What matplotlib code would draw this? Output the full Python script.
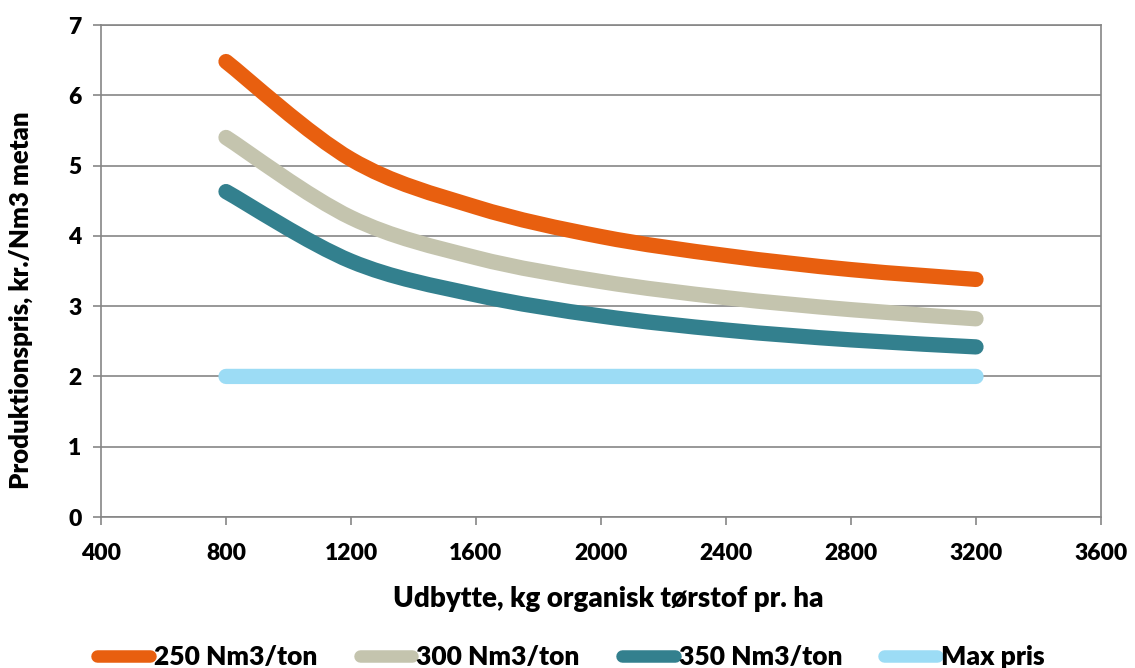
import numpy as np
import matplotlib.pyplot as plt
from matplotlib.path import Path
from matplotlib.patches import PathPatch
from matplotlib.lines import Line2D

plt.rcParams['font.family'] = ['Lato', 'DejaVu Sans']
plt.rcParams['font.weight'] = 'heavy'

# data
udbytte = [800, 1200, 1600, 2000, 2400, 2800, 3200]
nm250 = [6.48, 5.09, 4.41, 3.99, 3.72, 3.52, 3.38]
nm300 = [5.40, 4.26, 3.69, 3.35, 3.12, 2.95, 2.82]
nm350 = [4.63, 3.64, 3.16, 2.86, 2.66, 2.52, 2.42]
maxpris = [2.0, 2.0, 2.0, 2.0, 2.0, 2.0, 2.0]

labels = ['250 Nm3/ton', '300 Nm3/ton', '350 Nm3/ton', 'Max pris']
colors = ['#E85F0F', '#C4C4AE', '#33808E', '#9CDCF5']
series = [nm250, nm300, nm350, maxpris]


def smooth_path(xs, ys):
    # Excel-like smoothed line: cubic bezier through the points (Catmull-Rom)
    p = np.column_stack([xs, ys]).astype(float)
    verts = [p[0]]
    codes = [Path.MOVETO]
    n = len(p)
    for i in range(n - 1):
        p0 = p[i - 1] if i > 0 else p[i]
        p3 = p[i + 2] if i + 2 < n else p[i + 1]
        c1 = p[i] + (p[i + 1] - p0) / 6
        c2 = p[i + 1] - (p3 - p[i]) / 6
        verts += [c1, c2, p[i + 1]]
        codes += [Path.CURVE4] * 3
    return Path(verts, codes)


fig = plt.figure(figsize=(11.35, 6.68), dpi=100)
ax = fig.add_axes([101 / 1135, 1 - 517 / 668, 1000 / 1135, 492 / 668])

lw = 11
for ys, c in zip(series, colors):
    patch = PathPatch(smooth_path(udbytte, ys), facecolor='none', edgecolor=c,
                      lw=lw, capstyle='round', joinstyle='round', zorder=3)
    ax.add_patch(patch)

ax.set_xlim(400, 3600)
ax.set_ylim(0, 7)
ax.set_xticks(np.arange(400, 3601, 400))
ax.set_yticks(np.arange(0, 8, 1))
ax.grid(axis='y', color='#868686', lw=1.2)
ax.set_axisbelow(True)
for s in ax.spines.values():
    s.set_color('#868686')
    s.set_linewidth(1.2)
ax.tick_params(axis='both', color='#868686', width=1.2, length=6, labelsize=16.5)
ax.tick_params(axis='x', pad=13)
ax.tick_params(axis='y', pad=8)

ax.set_xlabel('Udbytte, kg organisk tørstof pr. ha', fontsize=20, fontweight='heavy')
ax.set_ylabel('Produktionspris, kr./Nm3 metan', fontsize=18.5, fontweight='heavy')
ax.xaxis.set_label_coords(0.507, -0.14)
ax.yaxis.set_label_coords(-0.068, 0.44)

handles = [Line2D([0], [0], color=c, lw=9, solid_capstyle='round') for c in colors]
fig.legend(handles, labels, loc='center left', bbox_to_anchor=(84 / 1135, 1 - 657 / 668), ncol=4,
           frameon=False, fontsize=19, handlelength=2.0, handletextpad=0.15,
           columnspacing=1.6, borderpad=0)

fig.savefig('out.png', dpi=100)
